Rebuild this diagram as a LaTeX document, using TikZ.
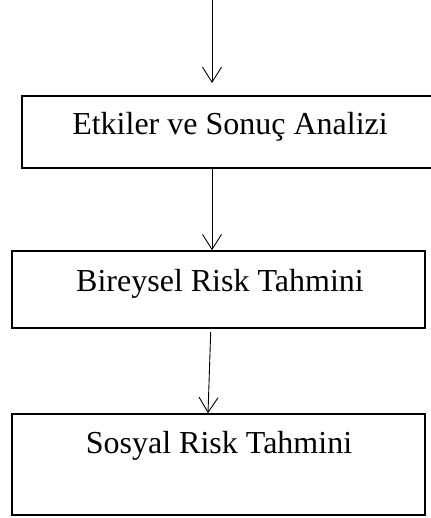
\documentclass[tikz,border=0pt]{standalone}
\usepackage{fontspec}
\setmainfont{Liberation Serif}
\usetikzlibrary{arrows.meta}
\begin{document}
\begin{tikzpicture}[x=1pt,y=-1pt,
  box/.style={draw=black, line width=1.5pt, rectangle, inner sep=0pt},
  lbl/.style={font=\fontsize{32}{38}\selectfont, inner sep=0pt, anchor=base},
  arr/.style={line width=0.9pt, -{Straight Barb[length=15pt,width=19pt,line width=0.9pt]}}]
\useasboundingbox (0,0) rectangle (430,518);

% boxes (centre, width, height)
\node[box, minimum width=418pt, minimum height=72pt] (b1) at (231,132) {};
\node[box, minimum width=413pt, minimum height=77pt] (b2) at (218.5,289.5) {};
\node[box, minimum width=413pt, minimum height=101pt] (b3) at (218.5,464.5) {};

% box texts
\node[lbl] (t1) at (230,135) {Etkiler ve Sonuç Analizi};
\node[lbl] (t2) at (220,291) {Bireysel Risk Tahmini};
\node[lbl] (t3) at (219,453) {Sosyal Risk Tahmini};

% connector end points
\coordinate (in0) at (212,0);
\coordinate (in1) at (212,83);
\coordinate (c12) at (212,0);
\coordinate (s23) at (210.7,332);
\coordinate (e23) at (208,0);

\draw[arr] (in0) -- (in1);
\draw[arr] (b1.south -| c12) -- (b2.north -| c12);
\draw[arr] (s23) -- (b3.north -| e23);
\end{tikzpicture}
\end{document}
